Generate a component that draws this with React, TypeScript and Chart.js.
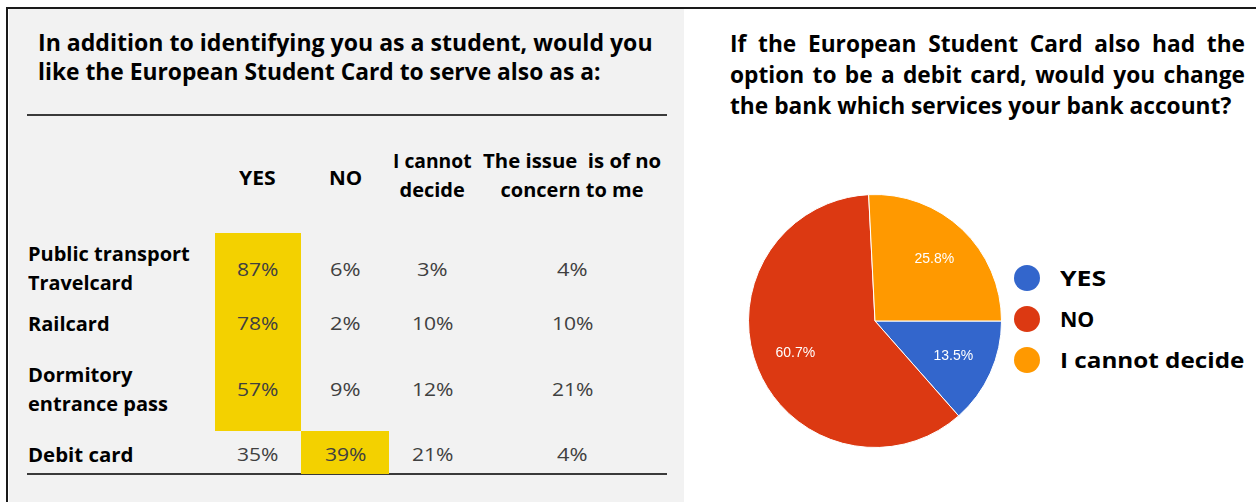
import React, { useEffect, useLayoutEffect, useRef, useState } from "react";
import { Chart, registerables } from "chart.js";

Chart.register(...registerables);

// ---- Data ----
const leftTitle = ["In addition to identifying you as a student, would you", "like the European Student Card to serve also as a:"];
const rightTitle = ["If the European Student Card also had the", "option to be a debit card, would you change", "the bank which services your bank account?"];
const colHeaders = [["YES"], ["NO"], ["I cannot", "decide"], ["The issue  is of no", "concern to me"]];
const rowLabels = [["Public transport", "Travelcard"], ["Railcard"], ["Dormitory", "entrance pass"], ["Debit card"]];
const yesValues = [87, 78, 57, 35];
const noValues = [6, 2, 9, 39];
const cannotValues = [3, 10, 12, 21];
const noConcernValues = [4, 10, 21, 4];

const pieLabels = ["YES", "NO", "I cannot decide"];
const pieValues = [13.5, 60.7, 25.8];
const pieColors = ["#3366cc", "#dc3912", "#ff9900"];

// ---- Layout ----
const FONT = "'Open Sans', 'DejaVu Sans', sans-serif";
const colBounds = [215, 301, 389, 475, 667];
const rowBounds = [233, 297, 352, 431, 474];
const headerLinesY = [[178], [178], [161, 190], [161, 190]];
const headerWidths = [[37], [33], [79, 65], [178, 143]];
const rowLabelY = [[254, 283], [324], [375, 404], [455]];
const rowLabelW = [[162, 105], [82], [105, 140], [105]];
const valueY = [270, 324, 390, 455];
const colCenters = [257, 345, 432, 572];

type TProps = { x: number; y: number; text: string; size: number; weight?: number; color?: string; align?: "left" | "center"; w?: number; family?: string };

function T({ x, y, text, size, weight = 400, color = "#000", align = "left", w, family = FONT }: TProps) {
  const ref = useRef<HTMLDivElement>(null);
  const [s, setS] = useState(1);
  const [nw, setNw] = useState(0);
  useLayoutEffect(() => {
    if (ref.current) {
      const n = ref.current.offsetWidth;
      setNw(n);
      if (w && n) setS(w / n);
    }
  }, [w, text, size]);
  const width = w ?? nw;
  const left = align === "center" ? x - width / 2 : x;
  return (
    <div
      ref={ref}
      style={{
        position: "absolute",
        left,
        top: y - size * 0.72,
        whiteSpace: "pre",
        fontSize: size,
        lineHeight: `${size * 1.4}px`,
        fontWeight: weight,
        color,
        fontFamily: family,
        transform: `scaleX(${s})`,
        transformOrigin: "left top",
      }}
    >
      {text}
    </div>
  );
}

// justified line: compressed by the same factor as the reference (last) line
function JLine({ x, y, text, size, width, scale }: { x: number; y: number; text: string; size: number; width: number; scale: number }) {
  return (
    <div
      style={{
        position: "absolute",
        left: x,
        top: y - size * 0.72,
        width: width / scale,
        fontSize: size,
        lineHeight: `${size * 1.4}px`,
        fontWeight: 700,
        fontFamily: FONT,
        textAlign: "justify",
        textAlignLast: "justify",
        whiteSpace: "nowrap",
        transform: `scaleX(${scale})`,
        transformOrigin: "left top",
        color: "#000",
      }}
    >
      {text}
    </div>
  );
}

function RightTitle() {
  const [scale, setScale] = useState(0.9);
  useLayoutEffect(() => {
    const c = document.createElement("canvas").getContext("2d");
    if (c) {
      c.font = `700 23px ${FONT}`;
      const n = c.measureText(rightTitle[2]).width;
      if (n) setScale(501 / n);
    }
  }, []);
  return (
    <>
      <JLine x={730} y={44} text={rightTitle[0]} size={23} width={515} scale={scale} />
      <JLine x={730} y={75} text={rightTitle[1]} size={23} width={515} scale={scale} />
      <T x={730} y={106} text={rightTitle[2]} size={23} weight={700} w={501} />
    </>
  );
}

const labelPlugin = {
  id: "pieLabels",
  afterDatasetsDraw(chart: any) {
    const ctx = chart.ctx;
    const meta = chart.getDatasetMeta(0);
    const ds = chart.data.datasets[0];
    ctx.save();
    ctx.fillStyle = "#ffffff";
    ctx.font = "14px 'Liberation Sans', Arial, sans-serif";
    ctx.textAlign = "center";
    ctx.textBaseline = "middle";
    meta.data.forEach((arc: any, i: number) => {
      const { x, y, startAngle, endAngle, outerRadius } = arc.getProps(["x", "y", "startAngle", "endAngle", "outerRadius"], true);
      const mid = (startAngle + endAngle) / 2;
      const r = outerRadius * 0.68;
      ctx.fillText(ds.data[i].toFixed(1) + "%", x + Math.cos(mid) * r, y + Math.sin(mid) * r);
    });
    ctx.restore();
  },
};

function PieChart() {
  const ref = useRef<HTMLCanvasElement>(null);
  useEffect(() => {
    if (!ref.current) return;
    const chart = new Chart(ref.current, {
      type: "pie",
      data: {
        labels: pieLabels,
        datasets: [
          {
            data: pieValues,
            backgroundColor: pieColors,
            borderColor: "#ffffff",
            borderWidth: 1,
            hoverOffset: 0,
          },
        ],
      },
      options: {
        animation: false,
        responsive: false,
        rotation: 90,
        layout: { padding: 8 },
        plugins: { legend: { display: false }, tooltip: { enabled: false } },
      },
      plugins: [labelPlugin],
    });
    return () => chart.destroy();
  }, []);
  return <canvas ref={ref} width={270} height={270} style={{ position: "absolute", left: 740, top: 186, width: 270, height: 270 }} />;
}

export default function App() {
  const rows = yesValues.map((_, i) => [yesValues[i], noValues[i], cannotValues[i], noConcernValues[i]]);
  return (
    <div style={{ position: "absolute", left: 0, top: 0, width: 1256, height: 502, background: "#ffffff", overflow: "hidden" }}>
      {/* borders and left panel */}
      <div style={{ position: "absolute", left: 9, top: 9, width: 675, height: 493, background: "#f2f2f2" }} />
      <div style={{ position: "absolute", left: 6, top: 7, width: 1250, height: 2, background: "#1a1a1a" }} />
      <div style={{ position: "absolute", left: 6, top: 7, width: 2, height: 495, background: "#1a1a1a" }} />

      {/* left title */}
      <T x={38} y={43} text={leftTitle[0]} size={23} weight={700} w={615} />
      <T x={38} y={72} text={leftTitle[1]} size={23} weight={700} w={562} />
      <div style={{ position: "absolute", left: 27, top: 114, width: 640, height: 2, background: "#3a3a3a" }} />
      <div style={{ position: "absolute", left: 27, top: 473, width: 640, height: 2, background: "#3a3a3a" }} />

      {/* highlights */}
      {rows.map((vals, ri) => {
        const mx = Math.max(...vals);
        const ci = vals.indexOf(mx);
        return (
          <div
            key={"h" + ri}
            style={{
              position: "absolute",
              left: colBounds[ci],
              top: rowBounds[ri],
              width: colBounds[ci + 1] - colBounds[ci],
              height: rowBounds[ri + 1] - rowBounds[ri],
              background: "#f3d100",
            }}
          />
        );
      })}

      {/* headers */}
      {colHeaders.map((lines, ci) =>
        lines.map((t, li) => (
          <T key={"c" + ci + li} x={colCenters[ci]} y={headerLinesY[ci][li]} text={t} size={20} weight={700} align="center" w={headerWidths[ci][li]} />
        ))
      )}

      {/* row labels */}
      {rowLabels.map((lines, ri) =>
        lines.map((t, li) => <T key={"r" + ri + li} x={28} y={rowLabelY[ri][li]} text={t} size={20} weight={700} w={rowLabelW[ri][li]} />)
      )}

      {/* values */}
      {rows.map((vals, ri) =>
        vals.map((v, ci) => (
          <T key={"v" + ri + ci} x={colCenters[ci]} y={valueY[ri]} text={v + "%"} size={19} weight={400} color="#404040" align="center" w={String(v).length > 1 ? 41 : 31} />
        ))
      )}

      {/* right title */}
      <RightTitle />

      <PieChart />

      {/* legend */}
      {pieLabels.map((l, i) => (
        <React.Fragment key={"lg" + i}>
          <div style={{ position: "absolute", left: 1027 - 13, top: 278 + i * 41 - 13, width: 26, height: 26, borderRadius: 13, background: pieColors[i] }} />
          <T x={1060} y={278 + i * 41} text={l} size={22} weight={700} w={[46, 34, 184][i]} />
        </React.Fragment>
      ))}
    </div>
  );
}
